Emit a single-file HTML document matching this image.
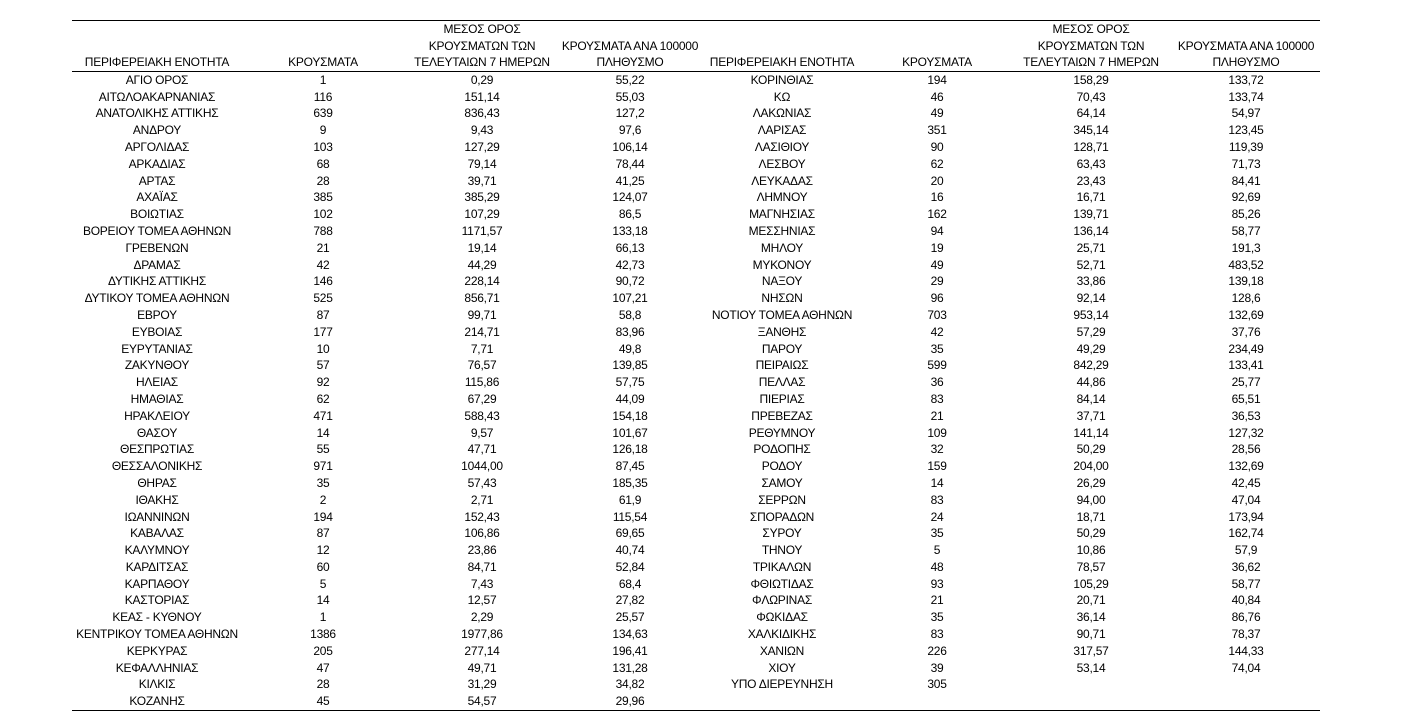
<!DOCTYPE html>
<html><head><meta charset="utf-8"><style>
body{margin:0;background:#fff;width:1409px;height:723px;overflow:hidden;font-family:"Liberation Sans","DejaVu Sans",sans-serif;color:#000}
table{position:absolute;left:72px;top:20px;border-collapse:collapse;table-layout:fixed;width:1248px;font-size:12px;letter-spacing:-0.25px}
td{text-align:center;padding:0;height:16.8px;line-height:16.8px;white-space:nowrap;overflow:visible}
thead td{height:16.6px;line-height:16.6px;vertical-align:bottom}
thead tr:first-child td{border-top:1.5px solid #000}
thead tr:last-child td{border-bottom:1.5px solid #000}
tbody tr:last-child td{border-bottom:1.5px solid #000}
</style></head><body>
<table>
<colgroup><col style="width:170px"><col style="width:162px"><col style="width:156px"><col style="width:140px"><col style="width:164px"><col style="width:146px"><col style="width:162px"><col style="width:148px"></colgroup>
<thead>
<tr><td></td><td></td><td>ΜΕΣΟΣ ΟΡΟΣ</td><td></td><td></td><td></td><td>ΜΕΣΟΣ ΟΡΟΣ</td><td></td></tr>
<tr><td></td><td></td><td>ΚΡΟΥΣΜΑΤΩΝ ΤΩΝ</td><td>ΚΡΟΥΣΜΑΤΑ ΑΝΑ 100000</td><td></td><td></td><td>ΚΡΟΥΣΜΑΤΩΝ ΤΩΝ</td><td>ΚΡΟΥΣΜΑΤΑ ΑΝΑ 100000</td></tr>
<tr><td>ΠΕΡΙΦΕΡΕΙΑΚΗ ΕΝΟΤΗΤΑ</td><td>ΚΡΟΥΣΜΑΤΑ</td><td>ΤΕΛΕΥΤΑΙΩΝ 7 ΗΜΕΡΩΝ</td><td>ΠΛΗΘΥΣΜΟ</td><td>ΠΕΡΙΦΕΡΕΙΑΚΗ ΕΝΟΤΗΤΑ</td><td>ΚΡΟΥΣΜΑΤΑ</td><td>ΤΕΛΕΥΤΑΙΩΝ 7 ΗΜΕΡΩΝ</td><td>ΠΛΗΘΥΣΜΟ</td></tr>
</thead>
<tbody>
<tr><td>ΑΓΙΟ ΟΡΟΣ</td><td>1</td><td>0,29</td><td>55,22</td><td>ΚΟΡΙΝΘΙΑΣ</td><td>194</td><td>158,29</td><td>133,72</td></tr>
<tr><td>ΑΙΤΩΛΟΑΚΑΡΝΑΝΙΑΣ</td><td>116</td><td>151,14</td><td>55,03</td><td>ΚΩ</td><td>46</td><td>70,43</td><td>133,74</td></tr>
<tr><td>ΑΝΑΤΟΛΙΚΗΣ ΑΤΤΙΚΗΣ</td><td>639</td><td>836,43</td><td>127,2</td><td>ΛΑΚΩΝΙΑΣ</td><td>49</td><td>64,14</td><td>54,97</td></tr>
<tr><td>ΑΝΔΡΟΥ</td><td>9</td><td>9,43</td><td>97,6</td><td>ΛΑΡΙΣΑΣ</td><td>351</td><td>345,14</td><td>123,45</td></tr>
<tr><td>ΑΡΓΟΛΙΔΑΣ</td><td>103</td><td>127,29</td><td>106,14</td><td>ΛΑΣΙΘΙΟΥ</td><td>90</td><td>128,71</td><td>119,39</td></tr>
<tr><td>ΑΡΚΑΔΙΑΣ</td><td>68</td><td>79,14</td><td>78,44</td><td>ΛΕΣΒΟΥ</td><td>62</td><td>63,43</td><td>71,73</td></tr>
<tr><td>ΑΡΤΑΣ</td><td>28</td><td>39,71</td><td>41,25</td><td>ΛΕΥΚΑΔΑΣ</td><td>20</td><td>23,43</td><td>84,41</td></tr>
<tr><td>ΑΧΑΪΑΣ</td><td>385</td><td>385,29</td><td>124,07</td><td>ΛΗΜΝΟΥ</td><td>16</td><td>16,71</td><td>92,69</td></tr>
<tr><td>ΒΟΙΩΤΙΑΣ</td><td>102</td><td>107,29</td><td>86,5</td><td>ΜΑΓΝΗΣΙΑΣ</td><td>162</td><td>139,71</td><td>85,26</td></tr>
<tr><td>ΒΟΡΕΙΟΥ ΤΟΜΕΑ ΑΘΗΝΩΝ</td><td>788</td><td>1171,57</td><td>133,18</td><td>ΜΕΣΣΗΝΙΑΣ</td><td>94</td><td>136,14</td><td>58,77</td></tr>
<tr><td>ΓΡΕΒΕΝΩΝ</td><td>21</td><td>19,14</td><td>66,13</td><td>ΜΗΛΟΥ</td><td>19</td><td>25,71</td><td>191,3</td></tr>
<tr><td>ΔΡΑΜΑΣ</td><td>42</td><td>44,29</td><td>42,73</td><td>ΜΥΚΟΝΟΥ</td><td>49</td><td>52,71</td><td>483,52</td></tr>
<tr><td>ΔΥΤΙΚΗΣ ΑΤΤΙΚΗΣ</td><td>146</td><td>228,14</td><td>90,72</td><td>ΝΑΞΟΥ</td><td>29</td><td>33,86</td><td>139,18</td></tr>
<tr><td>ΔΥΤΙΚΟΥ ΤΟΜΕΑ ΑΘΗΝΩΝ</td><td>525</td><td>856,71</td><td>107,21</td><td>ΝΗΣΩΝ</td><td>96</td><td>92,14</td><td>128,6</td></tr>
<tr><td>ΕΒΡΟΥ</td><td>87</td><td>99,71</td><td>58,8</td><td>ΝΟΤΙΟΥ ΤΟΜΕΑ ΑΘΗΝΩΝ</td><td>703</td><td>953,14</td><td>132,69</td></tr>
<tr><td>ΕΥΒΟΙΑΣ</td><td>177</td><td>214,71</td><td>83,96</td><td>ΞΑΝΘΗΣ</td><td>42</td><td>57,29</td><td>37,76</td></tr>
<tr><td>ΕΥΡΥΤΑΝΙΑΣ</td><td>10</td><td>7,71</td><td>49,8</td><td>ΠΑΡΟΥ</td><td>35</td><td>49,29</td><td>234,49</td></tr>
<tr><td>ΖΑΚΥΝΘΟΥ</td><td>57</td><td>76,57</td><td>139,85</td><td>ΠΕΙΡΑΙΩΣ</td><td>599</td><td>842,29</td><td>133,41</td></tr>
<tr><td>ΗΛΕΙΑΣ</td><td>92</td><td>115,86</td><td>57,75</td><td>ΠΕΛΛΑΣ</td><td>36</td><td>44,86</td><td>25,77</td></tr>
<tr><td>ΗΜΑΘΙΑΣ</td><td>62</td><td>67,29</td><td>44,09</td><td>ΠΙΕΡΙΑΣ</td><td>83</td><td>84,14</td><td>65,51</td></tr>
<tr><td>ΗΡΑΚΛΕΙΟΥ</td><td>471</td><td>588,43</td><td>154,18</td><td>ΠΡΕΒΕΖΑΣ</td><td>21</td><td>37,71</td><td>36,53</td></tr>
<tr><td>ΘΑΣΟΥ</td><td>14</td><td>9,57</td><td>101,67</td><td>ΡΕΘΥΜΝΟΥ</td><td>109</td><td>141,14</td><td>127,32</td></tr>
<tr><td>ΘΕΣΠΡΩΤΙΑΣ</td><td>55</td><td>47,71</td><td>126,18</td><td>ΡΟΔΟΠΗΣ</td><td>32</td><td>50,29</td><td>28,56</td></tr>
<tr><td>ΘΕΣΣΑΛΟΝΙΚΗΣ</td><td>971</td><td>1044,00</td><td>87,45</td><td>ΡΟΔΟΥ</td><td>159</td><td>204,00</td><td>132,69</td></tr>
<tr><td>ΘΗΡΑΣ</td><td>35</td><td>57,43</td><td>185,35</td><td>ΣΑΜΟΥ</td><td>14</td><td>26,29</td><td>42,45</td></tr>
<tr><td>ΙΘΑΚΗΣ</td><td>2</td><td>2,71</td><td>61,9</td><td>ΣΕΡΡΩΝ</td><td>83</td><td>94,00</td><td>47,04</td></tr>
<tr><td>ΙΩΑΝΝΙΝΩΝ</td><td>194</td><td>152,43</td><td>115,54</td><td>ΣΠΟΡΑΔΩΝ</td><td>24</td><td>18,71</td><td>173,94</td></tr>
<tr><td>ΚΑΒΑΛΑΣ</td><td>87</td><td>106,86</td><td>69,65</td><td>ΣΥΡΟΥ</td><td>35</td><td>50,29</td><td>162,74</td></tr>
<tr><td>ΚΑΛΥΜΝΟΥ</td><td>12</td><td>23,86</td><td>40,74</td><td>ΤΗΝΟΥ</td><td>5</td><td>10,86</td><td>57,9</td></tr>
<tr><td>ΚΑΡΔΙΤΣΑΣ</td><td>60</td><td>84,71</td><td>52,84</td><td>ΤΡΙΚΑΛΩΝ</td><td>48</td><td>78,57</td><td>36,62</td></tr>
<tr><td>ΚΑΡΠΑΘΟΥ</td><td>5</td><td>7,43</td><td>68,4</td><td>ΦΘΙΩΤΙΔΑΣ</td><td>93</td><td>105,29</td><td>58,77</td></tr>
<tr><td>ΚΑΣΤΟΡΙΑΣ</td><td>14</td><td>12,57</td><td>27,82</td><td>ΦΛΩΡΙΝΑΣ</td><td>21</td><td>20,71</td><td>40,84</td></tr>
<tr><td>ΚΕΑΣ - ΚΥΘΝΟΥ</td><td>1</td><td>2,29</td><td>25,57</td><td>ΦΩΚΙΔΑΣ</td><td>35</td><td>36,14</td><td>86,76</td></tr>
<tr><td>ΚΕΝΤΡΙΚΟΥ ΤΟΜΕΑ ΑΘΗΝΩΝ</td><td>1386</td><td>1977,86</td><td>134,63</td><td>ΧΑΛΚΙΔΙΚΗΣ</td><td>83</td><td>90,71</td><td>78,37</td></tr>
<tr><td>ΚΕΡΚΥΡΑΣ</td><td>205</td><td>277,14</td><td>196,41</td><td>ΧΑΝΙΩΝ</td><td>226</td><td>317,57</td><td>144,33</td></tr>
<tr><td>ΚΕΦΑΛΛΗΝΙΑΣ</td><td>47</td><td>49,71</td><td>131,28</td><td>ΧΙΟΥ</td><td>39</td><td>53,14</td><td>74,04</td></tr>
<tr><td>ΚΙΛΚΙΣ</td><td>28</td><td>31,29</td><td>34,82</td><td>ΥΠΟ ΔΙΕΡΕΥΝΗΣΗ</td><td>305</td><td></td><td></td></tr>
<tr><td>ΚΟΖΑΝΗΣ</td><td>45</td><td>54,57</td><td>29,96</td><td></td><td></td><td></td><td></td></tr>
</tbody>
</table>
</body></html>
